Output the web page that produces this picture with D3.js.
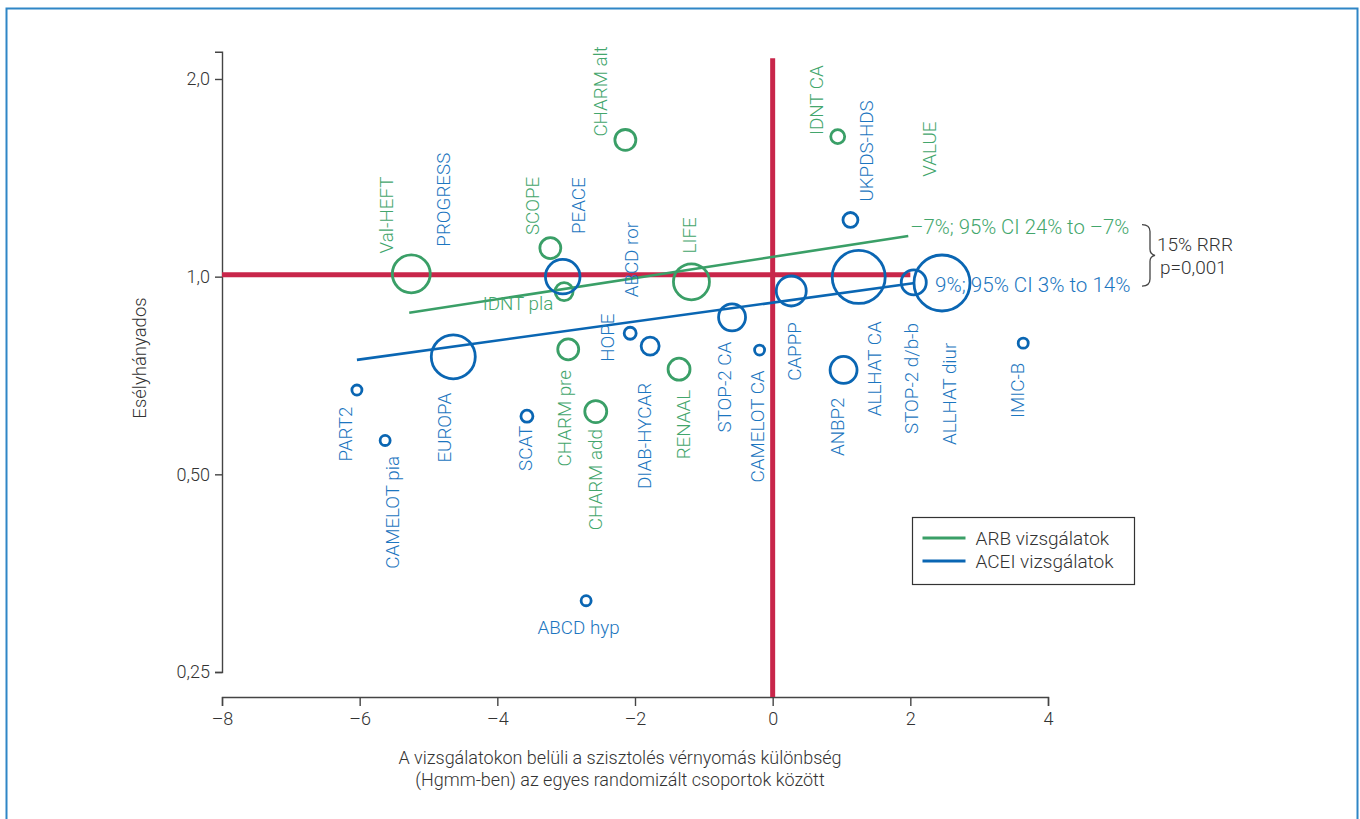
<!DOCTYPE html>
<html>
<head>
<meta charset="utf-8">
<script src="https://cdn.jsdelivr.net/npm/d3@7"></script>
<style>
  html, body { margin: 0; padding: 0; background: #fff; }
  svg { display: block; }
  text { font-family: Roboto, "Liberation Sans", Arial, sans-serif; font-weight: 300; }
</style>
</head>
<body>
<svg id="chart" width="1360" height="819"></svg>
<script>
// ARB trials: systolic BP difference (mmHg), odds ratio, relative weight (null = no marker)
const arbStudies   = ["Val-HEFT", "SCOPE", "IDNT pla", "CHARM alt", "LIFE", "CHARM pre", "CHARM add", "RENAAL", "IDNT CA", "VALUE"];
const arbBpDiff    = [-5.25, -3.23, -3.03, -2.14, -1.18, -2.97, -2.57, -1.36, 0.945, null];
const arbOddsRatio = [1.01, 1.105, 0.949, 1.615, 0.982, 0.775, 0.623, 0.723, 1.634, null];
const arbWeight    = [20, 6.1, 4.5, 6.1, 18, 6.1, 6.7, 6.7, 2.7, null];

// ACEI trials
const aceiStudies   = ["PART2", "CAMELOT pia", "EUROPA", "PROGRESS", "SCAT", "PEACE", "ABCD ror", "HOPE", "DIAB-HYCAR",
                       "STOP-2 CA", "CAMELOT CA", "CAPPP", "UKPDS-HDS", "ANBP2", "ALLHAT CA", "STOP-2 d/b-b", "ALLHAT diur", "IMIC-B", "ABCD hyp"];
const aceiBpDiff    = [-6.04, -5.63, -4.64, null, -3.57, -3.05, null, -2.07, -1.78,
                       -0.59, -0.19, 0.27, 1.13, 1.03, 1.25, 2.05, 2.46, 3.64, -2.71];
const aceiOddsRatio = [0.672, 0.563, 0.755, null, 0.613, 1.0, null, 0.820, 0.784,
                       0.867, 0.773, 0.951, 1.22, 0.721, 0.999, 0.980, 0.978, 0.792, 0.321];
const aceiWeight    = [1.4, 1.4, 26.9, null, 2.0, 16.6, null, 2.0, 4.5,
                       10.1, 1.4, 12.5, 3.1, 10.1, 39, 8.7, 43.6, 1.4, 1.4];

// Meta-regression lines (end points)
const arbFitBp  = [-5.28, 1.97];
const arbFitOr  = [0.881, 1.153];
const aceiFitBp = [-6.04, 2.04];
const aceiFitOr = [0.747, 0.977];

const arbFitText  = "\u20137%; 95% CI 24% to \u20137%";
const aceiFitText = "9%; 95% CI 3% to 14%";
const rrrLines    = ["15% RRR", "p=0,001"];

const xTicks      = [-8, -6, -4, -2, 0, 2, 4];
const xTickLabels = ["\u20138", "\u20136", "\u20134", "\u20132", "0", "2", "4"];
const yTicks      = [0.25, 0.5, 1, 2];
const yTickLabels = ["0,25", "0,50", "1,0", "2,0"];

const xTitleLines = ["A vizsgálatokon belüli a szisztolés vérnyomás különbség",
                     "(Hgmm-ben) az egyes randomizált csoportok között"];
const yTitle = "Esélyhányados";
const legendLabels = ["ARB vizsgálatok", "ACEI vizsgálatok"];

// Label anchors in data space: [bp, odds ratio, orientation]
const labelLayout = {
  "Val-HEFT": [-5.61, 1.085, "v"], "SCOPE": [-3.48, 1.157, "v"], "IDNT pla": [-3.70, 0.909, "h"],
  "CHARM alt": [-2.50, 1.634, "v"], "LIFE": [-1.20, 1.085, "v"], "CHARM pre": [-3.01, 0.514, "v"],
  "CHARM add": [-2.56, 0.411, "v"], "RENAAL": [-1.29, 0.527, "v"], "IDNT CA": [0.65, 1.643, "v"],
  "VALUE": [2.28, 1.42, "v"],
  "PART2": [-6.20, 0.523, "v"], "CAMELOT pia": [-5.52, 0.359, "v"], "EUROPA": [-4.76, 0.521, "v"],
  "PROGRESS": [-4.77, 1.111, "v"], "SCAT": [-3.58, 0.506, "v"], "PEACE": [-2.82, 1.161, "v"],
  "ABCD ror": [-2.05, 0.930, "v"], "HOPE": [-2.39, 0.742, "v"], "DIAB-HYCAR": [-1.85, 0.475, "v"],
  "STOP-2 CA": [-0.69, 0.579, "v"], "CAMELOT CA": [-0.21, 0.486, "v"], "CAPPP": [0.32, 0.694, "v"],
  "UKPDS-HDS": [1.37, 1.301, "v"], "ANBP2": [0.95, 0.533, "v"], "ALLHAT CA": [1.49, 0.613, "v"],
  "STOP-2 d/b-b": [2.02, 0.576, "v"], "ALLHAT diur": [2.58, 0.554, "v"], "IMIC-B": [3.57, 0.609, "v"],
  "ABCD hyp": [-2.82, 0.292, "h"]
};

const GREEN = "#3a9f67", GREEN_TXT = "#43a66c";
const BLUE = "#0a66b3", BLUE_TXT = "#1c76c0";
const RED = "#c8264a";
const AXIS = "#444";

const svg = d3.select("#chart");

// outer frame
svg.append("rect")
  .attr("x", 6.5).attr("y", 8.5).attr("width", 1351).attr("height", 840)
  .attr("fill", "none").attr("stroke", "#2f86c6").attr("stroke-width", 2);

const x = d3.scaleLinear().domain([-8, 4]).range([222, 1048]);
const y = d3.scaleLog().domain([0.25, 2.2]).range([672, 51.8]);
const r = d3.scaleSqrt().domain([0, 50]).range([0, 30]);
const xAxisY = 697;

// axes
const yAxis = svg.append("g").attr("transform", "translate(222,0)")
  .call(d3.axisLeft(y).tickValues(yTicks).tickSizeOuter(0).tickSize(7)
    .tickFormat((d, i) => yTickLabels[i]));
const xAxis = svg.append("g").attr("transform", `translate(0,${xAxisY})`)
  .call(d3.axisBottom(x).tickValues(xTicks).tickSizeOuter(0).tickSize(9)
    .tickFormat((d, i) => xTickLabels[i]));
[yAxis, xAxis].forEach(g => {
  g.select(".domain").attr("stroke", AXIS).attr("stroke-width", 1.4);
  g.selectAll(".tick line").attr("stroke", AXIS).attr("stroke-width", 1.4);
  g.selectAll(".tick text").attr("fill", "#333").style("font-size", "18px").style("font-family", null);
});
yAxis.selectAll(".tick text").attr("x", -12);
xAxis.selectAll(".tick text").attr("y", 15);

// axis titles
svg.append("text").attr("x", 620).attr("y", 757).attr("text-anchor", "middle")
  .attr("dominant-baseline", "central").attr("fill", "#333").style("font-size", "18px")
  .selectAll("tspan").data(xTitleLines).join("tspan")
  .attr("x", 620).attr("dy", (d, i) => i === 0 ? 0 : 22).text(d => d);
svg.append("text")
  .attr("transform", "translate(140,358) rotate(-90)")
  .attr("text-anchor", "middle").attr("dominant-baseline", "central")
  .attr("fill", "#333").style("font-size", "18.5px").text(yTitle);

// reference lines (OR = 1, BP difference = 0)
svg.append("line")
  .attr("x1", x(-8)).attr("x2", x(2)).attr("y1", y(1) - 2).attr("y2", y(1) - 2)
  .attr("stroke", RED).attr("stroke-width", 5);
svg.append("line")
  .attr("x1", x(0)).attr("x2", x(0)).attr("y1", y(2.15)).attr("y2", xAxisY)
  .attr("stroke", RED).attr("stroke-width", 5);

// regression lines
const fitLine = (bps, ors) => d3.line().x(d => x(d[0])).y(d => y(d[1]))(bps.map((b, i) => [b, ors[i]]));
svg.append("path").attr("d", fitLine(arbFitBp, arbFitOr))
  .attr("fill", "none").attr("stroke", GREEN).attr("stroke-width", 2.6);
svg.append("path").attr("d", fitLine(aceiFitBp, aceiFitOr))
  .attr("fill", "none").attr("stroke", BLUE).attr("stroke-width", 2.6);

// study markers and labels
function drawGroup(names, bps, ors, weights, stroke, txtColor) {
  const rows = names.map((n, i) => ({ name: n, bp: bps[i], or: ors[i], w: weights[i] }));
  svg.append("g").selectAll("circle")
    .data(rows.filter(d => d.bp !== null))
    .join("circle")
    .attr("cx", d => x(d.bp)).attr("cy", d => y(d.or)).attr("r", d => r(d.w))
    .attr("fill", "none").attr("stroke", stroke).attr("stroke-width", 2.8);
  svg.append("g").selectAll("text")
    .data(rows)
    .join("text")
    .attr("transform", d => {
      const L = labelLayout[d.name];
      return `translate(${x(L[0])},${y(L[1])})` + (L[2] === "v" ? " rotate(-90)" : "");
    })
    .attr("text-anchor", d => labelLayout[d.name][2] === "v" ? "start" : "middle")
    .attr("dominant-baseline", "central")
    .attr("fill", txtColor).style("font-size", "18.8px")
    .text(d => d.name);
}
drawGroup(arbStudies, arbBpDiff, arbOddsRatio, arbWeight, GREEN, GREEN_TXT);
drawGroup(aceiStudies, aceiBpDiff, aceiOddsRatio, aceiWeight, BLUE, BLUE_TXT);

// regression annotations
const arbTxtY = y(1.192), aceiTxtY = y(0.971);
svg.append("text").attr("x", x(2.0)).attr("y", arbTxtY).attr("dominant-baseline", "central")
  .attr("fill", GREEN_TXT).style("font-size", "20.3px").text(arbFitText);
svg.append("text").attr("x", x(2.36)).attr("y", aceiTxtY).attr("dominant-baseline", "central")
  .attr("fill", BLUE_TXT).style("font-size", "20.6px").text(aceiFitText);

// brace linking the two estimates
const bx = 1142, by0 = arbTxtY - 2, by1 = aceiTxtY + 1, bm = (by0 + by1) / 2;
svg.append("path")
  .attr("d", `M${bx},${by0} Q${bx + 8},${by0} ${bx + 8},${by0 + 7} L${bx + 8},${bm - 6} Q${bx + 8},${bm - 1} ${bx + 13},${bm}`
           + ` Q${bx + 8},${bm + 1} ${bx + 8},${bm + 6} L${bx + 8},${by1 - 7} Q${bx + 8},${by1} ${bx},${by1}`)
  .attr("fill", "none").attr("stroke", "#444").attr("stroke-width", 1.3);
svg.append("text").attr("fill", "#333").style("font-size", "19px")
  .selectAll("tspan").data(rrrLines).join("tspan")
  .attr("x", (d, i) => i === 0 ? 1157 : 1160)
  .attr("y", (d, i) => bm - 11 + i * 23)
  .attr("dominant-baseline", "central")
  .text(d => d);

// legend
const lg = svg.append("g").attr("transform", "translate(912.5,517.5)");
lg.append("rect").attr("width", 222).attr("height", 67)
  .attr("fill", "#fff").attr("stroke", "#333").attr("stroke-width", 1.2);
[GREEN, BLUE].forEach((c, i) => {
  const yy = 20.5 + i * 23;
  lg.append("line").attr("x1", 10).attr("x2", 53).attr("y1", yy).attr("y2", yy)
    .attr("stroke", c).attr("stroke-width", 2.8);
  lg.append("text").attr("x", 63).attr("y", yy).attr("dominant-baseline", "central")
    .attr("fill", "#333").style("font-size", "19px").text(legendLabels[i]);
});
</script>
</body>
</html>
